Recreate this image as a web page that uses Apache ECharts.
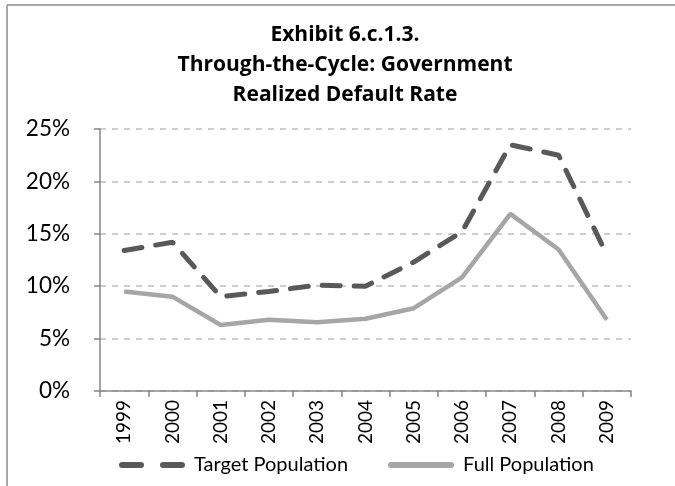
<!DOCTYPE html>
<html>
<head>
<meta charset="utf-8">
<script src="https://cdn.jsdelivr.net/npm/echarts@6/dist/echarts.min.js"></script>
<style>
  html, body { margin: 0; padding: 0; background: #fff; }
  #chart { width: 675px; height: 486px; }
</style>
</head>
<body>
<div id="chart"></div>
<script>
// Government realized default rate, through-the-cycle, by year
const years = ['1999','2000','2001','2002','2003','2004','2005','2006','2007','2008','2009'];
const targetPopulation = [13.4, 14.2, 9.0, 9.5, 10.1, 10.0, 12.3, 15.2, 23.5, 22.5, 13.0];
const fullPopulation   = [9.5, 9.0, 6.3, 6.8, 6.55, 6.9, 7.9, 10.85, 16.9, 13.5, 6.8];
const yTicks = [0, 5, 10, 15, 20, 25];

const FONT = 'Lato, "Open Sans", sans-serif';
const TITLE_FONT = '"Open Sans", Lato, sans-serif';
const chart = echarts.init(document.getElementById('chart'), null, { renderer: 'canvas' });

chart.setOption({
  animation: false,
  backgroundColor: '#ffffff',
  graphic: [
    // chart frame (left and top edges)
    { type: 'line', shape: { x1: 7, y1: 5, x2: 7, y2: 486 }, style: { stroke: '#8c8c8c', lineWidth: 1.5 } },
    { type: 'line', shape: { x1: 7, y1: 5, x2: 675, y2: 5 }, style: { stroke: '#8c8c8c', lineWidth: 1.5 } }
  ],
  title: {
    text: 'Exhibit 6.c.1.3.\nThrough-the-Cycle: Government\nRealized Default Rate',
    left: 340,
    textAlign: 'center',
    top: 15,
    textStyle: { fontFamily: TITLE_FONT, fontWeight: 'bold', fontSize: 21, lineHeight: 30, color: '#000' }
  },
  grid: { left: 100, right: 44, top: 129, bottom: 95, containLabel: false },
  legend: {
    bottom: 6,
    left: 114,
    itemGap: 40,
    itemWidth: 66,
    itemHeight: 6,
    textStyle: { fontFamily: FONT, fontSize: 20, color: '#000', padding: [0, 0, 0, 4] },
    data: [
      { name: 'Target Population', icon: 'path://M3,0H22A3,3 0 0 1 22,6H3A3,3 0 0 1 3,0Z M44,0H63A3,3 0 0 1 63,6H44A3,3 0 0 1 44,0Z' },
      { name: 'Full Population', icon: 'path://M3,0H63A3,3 0 0 1 63,6H3A3,3 0 0 1 3,0Z' }
    ]
  },
  xAxis: {
    type: 'category',
    data: years,
    boundaryGap: true,
    axisLine: { lineStyle: { color: '#868686', width: 1.5 } },
    axisTick: { show: true, alignWithLabel: false, length: 6, lineStyle: { color: '#868686', width: 1.5 } },
    axisLabel: { rotate: 90, margin: 9, fontFamily: FONT, fontSize: 19, color: '#000' },
    splitLine: { show: false }
  },
  yAxis: {
    type: 'value',
    min: yTicks[0],
    max: yTicks[yTicks.length - 1],
    interval: 5,
    axisLine: { show: true, lineStyle: { color: '#868686', width: 1.5 } },
    axisTick: { show: true, length: 6, lineStyle: { color: '#868686', width: 1.5 } },
    axisLabel: { formatter: v => v + '%', margin: 30, fontFamily: FONT, fontSize: 22.5, color: '#000' },
    splitLine: { show: true, lineStyle: { color: '#bfbfbf', type: [6, 6], width: 1.5 } }
  },
  series: [
    {
      name: 'Target Population',
      type: 'line',
      data: targetPopulation,
      symbol: 'none',
      color: '#595959',
      lineStyle: { color: '#595959', width: 5, type: [18, 14], cap: 'round' },
      z: 3
    },
    {
      name: 'Full Population',
      type: 'line',
      data: fullPopulation,
      symbol: 'none',
      color: '#a6a6a6',
      lineStyle: { color: '#a6a6a6', width: 4.5 },
      z: 2
    }
  ]
});
</script>
</body>
</html>
